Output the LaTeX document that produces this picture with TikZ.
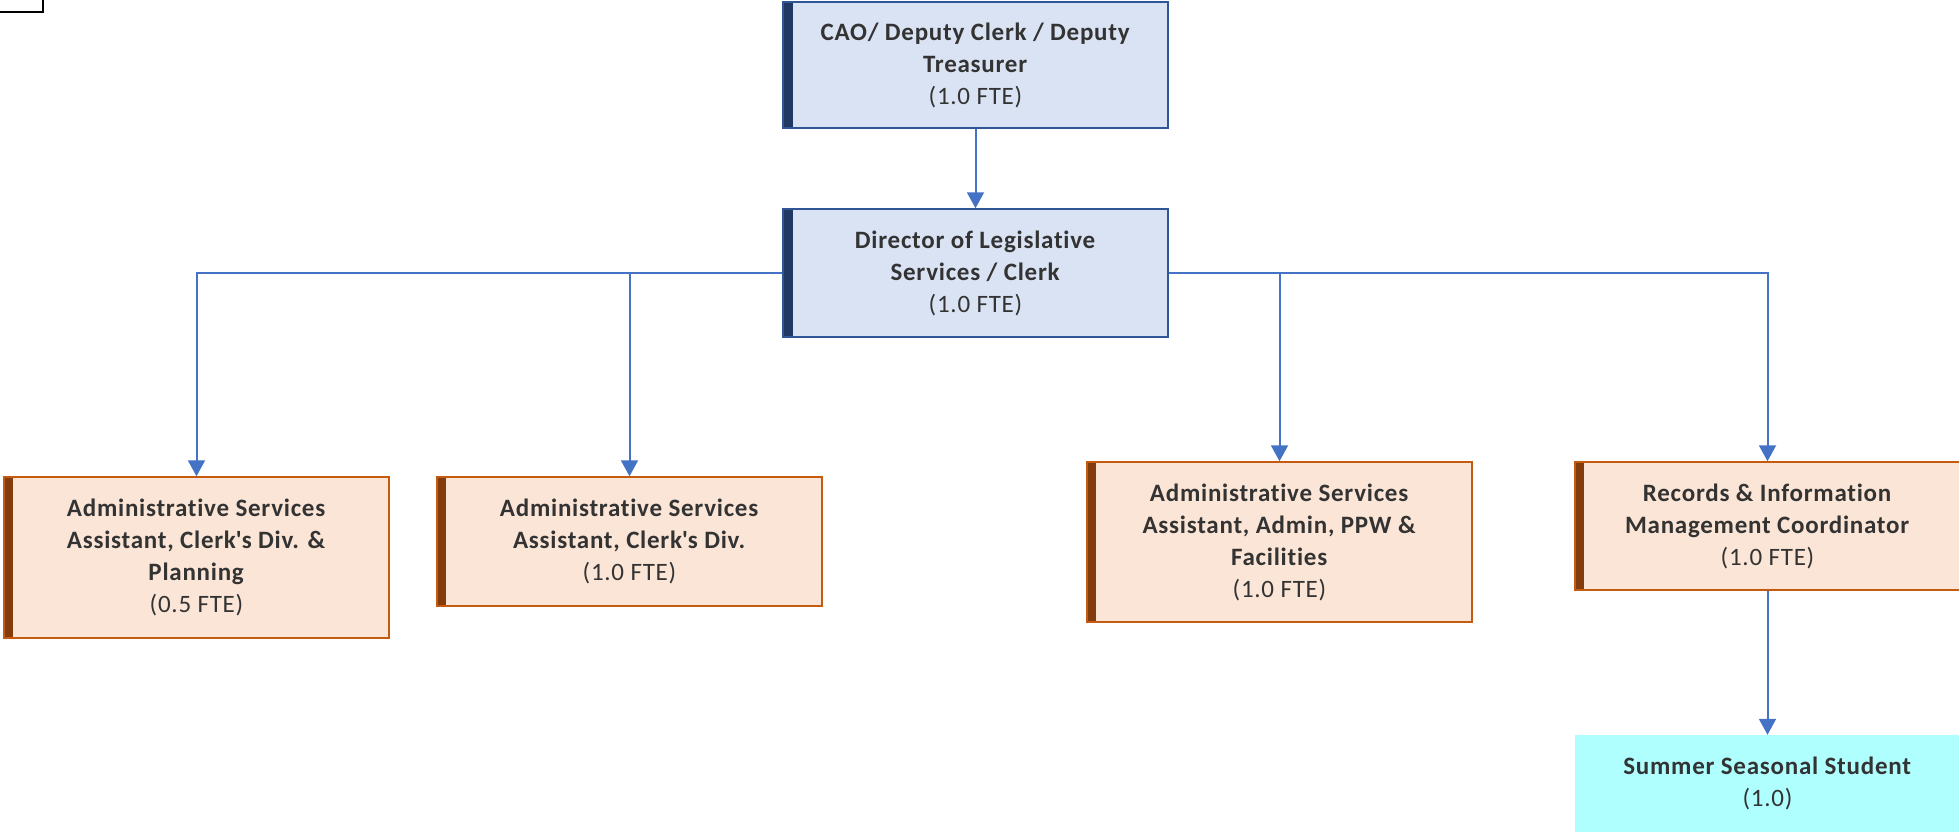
\documentclass[tikz,border=0pt]{standalone}
\usepackage{fontspec}
\setmainfont[Ligatures={NoCommon},LetterSpace=3]{Carlito}
\usetikzlibrary{arrows.meta}
\definecolor{bluefill}{HTML}{DAE3F3}
\definecolor{blueline}{HTML}{2F5597}
\definecolor{bluebar}{HTML}{1F3864}
\definecolor{orfill}{HTML}{FBE5D6}
\definecolor{orline}{HTML}{C55A11}
\definecolor{orbar}{HTML}{843C0C}
\definecolor{cyanfill}{HTML}{B0FFFF}
\definecolor{conn}{HTML}{4472C4}
\definecolor{txt}{HTML}{333333}
\newcommand{\apo}{\XeTeXglyph\XeTeXcharglyph"0027\relax}
\begin{document}
\begin{tikzpicture}[x=1pt,y=-1pt,
  base/.style={inner sep=0pt, align=center, text=txt, font=\fontsize{25}{32}\selectfont,
    minimum width=385pt},
  bluebox/.style={base, draw=blueline, fill=bluefill, line width=1.5pt,
    path picture={\fill[bluebar] (path picture bounding box.south west) rectangle ([xshift=10pt]path picture bounding box.north west);}},
  orbox/.style={base, draw=orline, fill=orfill, line width=1.5pt,
    path picture={\fill[orbar] (path picture bounding box.south west) rectangle ([xshift=9pt]path picture bounding box.north west);}},
  cybox/.style={base, fill=cyanfill},
  conn/.style={draw=conn, line width=2pt, -{Triangle[width=17pt,length=16pt]}}
]
\useasboundingbox (0,0) rectangle (1959,833);
\draw[line width=2pt] (-10,-10) rectangle (43,12);

\node[bluebox, minimum height=126pt] (cao) at (975.5,65) {\textbf{CAO/ Deputy Clerk / Deputy}\\\textbf{Treasurer}\\(1.0 FTE)};
\node[bluebox, minimum height=128pt] (dir) at (975.5,273) {\textbf{Director of Legislative}\\\textbf{Services / Clerk}\\(1.0 FTE)};
\node[orbox, minimum height=161pt] (b1) at (196.5,557.5) {\textbf{Administrative Services}\\\textbf{Assistant, Clerk\apo s Div. \&}\\\textbf{Planning}\\(0.5 FTE)};
\node[orbox, minimum height=129pt] (b2) at (629.5,541.5) {\textbf{Administrative Services}\\\textbf{Assistant, Clerk\apo s Div.}\\(1.0 FTE)};
\node[orbox, minimum height=160pt] (b3) at (1279.5,542) {\textbf{Administrative Services}\\\textbf{Assistant, Admin, PPW \&}\\\textbf{Facilities}\\(1.0 FTE)};
\node[orbox, minimum height=128pt] (b4) at (1767.5,526) {\textbf{Records \& Information}\\\textbf{Management Coordinator}\\(1.0 FTE)};
\node[cybox, minimum height=97pt] (stu) at (1767.5,783.5) {\textbf{Summer Seasonal Student}\\(1.0)};

\draw[conn] (cao) -- (dir);
\draw[conn] (dir.west) -| (b1.north);
\draw[conn] (dir.west) -| (b2.north);
\draw[conn] (dir.east) -| (b3.north);
\draw[conn] (dir.east) -| (b4.north);
\draw[conn] (b4) -- (stu);
\end{tikzpicture}
\end{document}
